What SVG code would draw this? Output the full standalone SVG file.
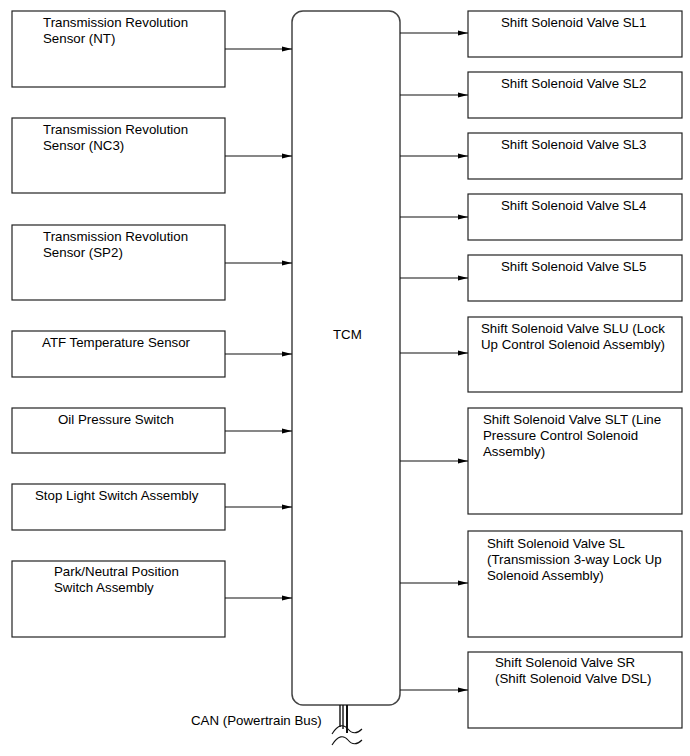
<svg xmlns="http://www.w3.org/2000/svg" width="690" height="756" viewBox="0 0 690 756">
<style>
.box{fill:#fff;stroke:#222;stroke-width:1.2}
.tcm{fill:#fff;stroke:#444;stroke-width:1.5}
text{font-family:"Liberation Sans",Arial,sans-serif;font-size:13.3px;fill:#000}
.c{stroke:#111;stroke-width:1.1;fill:none}
</style>
<defs>
<marker id="ah" markerWidth="10" markerHeight="6" refX="10" refY="3" orient="auto" markerUnits="userSpaceOnUse">
<path d="M0,0.5 L10,3 L0,5.5 Z" fill="#000"/>
</marker>
</defs>
<rect width="690" height="756" fill="#fff"/>

<g id="tcm">
<rect class="tcm" x="292" y="11" width="108" height="694" rx="11"/>
<text x="333" y="339">TCM</text>
</g>

<g id="in1"><rect class="box" x="12" y="11" width="213" height="76"/>
<text x="43" y="27">Transmission Revolution</text><text x="43" y="43">Sensor (NT)</text></g>
<g id="in2"><rect class="box" x="12" y="118" width="213" height="75"/>
<text x="43" y="134">Transmission Revolution</text><text x="43" y="150">Sensor (NC3)</text></g>
<g id="in3"><rect class="box" x="12" y="225" width="213" height="75"/>
<text x="43" y="241">Transmission Revolution</text><text x="43" y="257">Sensor (SP2)</text></g>
<g id="in4"><rect class="box" x="12" y="331" width="213" height="46"/>
<text x="42" y="347">ATF Temperature Sensor</text></g>
<g id="in5"><rect class="box" x="12" y="408" width="213" height="45"/>
<text x="58" y="424">Oil Pressure Switch</text></g>
<g id="in6"><rect class="box" x="12" y="484" width="213" height="46"/>
<text x="35" y="500">Stop Light Switch Assembly</text></g>
<g id="in7"><rect class="box" x="12" y="561" width="213" height="76"/>
<text x="54" y="576">Park/Neutral Position</text><text x="54" y="592">Switch Assembly</text></g>

<g id="out1"><rect class="box" x="468" y="11" width="214" height="46"/>
<text x="501" y="27">Shift Solenoid Valve SL1</text></g>
<g id="out2"><rect class="box" x="468" y="72" width="214" height="46"/>
<text x="501" y="88">Shift Solenoid Valve SL2</text></g>
<g id="out3"><rect class="box" x="468" y="133" width="214" height="46"/>
<text x="501" y="149">Shift Solenoid Valve SL3</text></g>
<g id="out4"><rect class="box" x="468" y="194" width="214" height="46"/>
<text x="501" y="210">Shift Solenoid Valve SL4</text></g>
<g id="out5"><rect class="box" x="468" y="255" width="214" height="46"/>
<text x="501" y="271">Shift Solenoid Valve SL5</text></g>
<g id="out6"><rect class="box" x="468" y="317" width="214" height="75"/>
<text x="481" y="333">Shift Solenoid Valve SLU (Lock</text><text x="481" y="349">Up Control Solenoid Assembly)</text></g>
<g id="out7"><rect class="box" x="468" y="408" width="214" height="106"/>
<text x="483" y="424">Shift Solenoid Valve SLT (Line</text><text x="483" y="440">Pressure Control Solenoid</text><text x="483" y="456">Assembly)</text></g>
<g id="out8"><rect class="box" x="468" y="531" width="214" height="106"/>
<text x="487" y="548">Shift Solenoid Valve SL</text><text x="487" y="564">(Transmission 3-way Lock Up</text><text x="487" y="580">Solenoid Assembly)</text></g>
<g id="out9"><rect class="box" x="468" y="652" width="214" height="76"/>
<text x="495" y="667">Shift Solenoid Valve SR</text><text x="495" y="683">(Shift Solenoid Valve DSL)</text></g>

<g id="connectors">
<line class="c" x1="225" y1="49" x2="292" y2="49" marker-end="url(#ah)"/>
<line class="c" x1="225" y1="156" x2="292" y2="156" marker-end="url(#ah)"/>
<line class="c" x1="225" y1="263" x2="292" y2="263" marker-end="url(#ah)"/>
<line class="c" x1="225" y1="354" x2="292" y2="354" marker-end="url(#ah)"/>
<line class="c" x1="225" y1="431" x2="292" y2="431" marker-end="url(#ah)"/>
<line class="c" x1="225" y1="507" x2="292" y2="507" marker-end="url(#ah)"/>
<line class="c" x1="225" y1="598" x2="292" y2="598" marker-end="url(#ah)"/>
<line class="c" x1="400" y1="33" x2="468" y2="33" marker-end="url(#ah)"/>
<line class="c" x1="400" y1="95" x2="468" y2="95" marker-end="url(#ah)"/>
<line class="c" x1="400" y1="156" x2="468" y2="156" marker-end="url(#ah)"/>
<line class="c" x1="400" y1="217" x2="468" y2="217" marker-end="url(#ah)"/>
<line class="c" x1="400" y1="278" x2="468" y2="278" marker-end="url(#ah)"/>
<line class="c" x1="400" y1="353" x2="468" y2="353" marker-end="url(#ah)"/>
<line class="c" x1="400" y1="461" x2="468" y2="461" marker-end="url(#ah)"/>
<line class="c" x1="400" y1="583" x2="468" y2="583" marker-end="url(#ah)"/>
<line class="c" x1="400" y1="690" x2="468" y2="690" marker-end="url(#ah)"/>
</g>

<g id="can">
<line x1="340" y1="705" x2="340" y2="727" stroke="#111" stroke-width="1.4"/>
<line x1="343" y1="705" x2="343" y2="729" stroke="#111" stroke-width="1.4"/>
<line x1="347" y1="705" x2="347" y2="733" stroke="#111" stroke-width="2"/>
<path class="c" d="M332,734 C338,724 344,724 348,729 C352,734 357,734 362,729"/>
<path class="c" d="M332,745 C338,735 344,735 348,740 C352,745 357,745 362,740"/>
<text x="191" y="725">CAN (Powertrain Bus)</text>
</g>
</svg>
